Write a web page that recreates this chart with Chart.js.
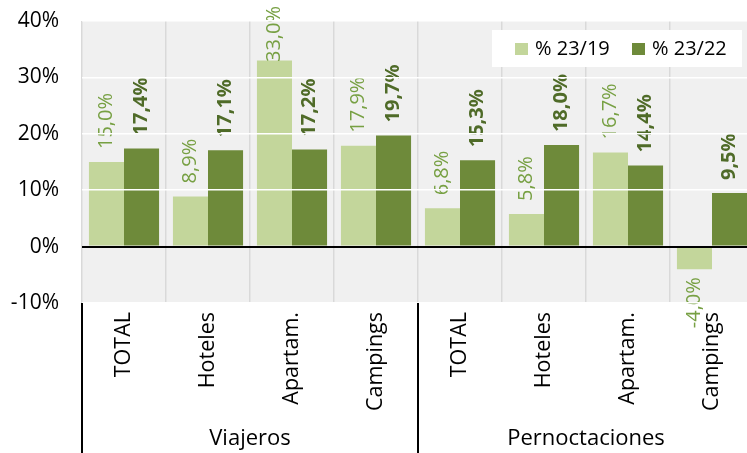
<!DOCTYPE html>
<html>
<head>
<meta charset="utf-8">
<script src="https://cdn.jsdelivr.net/npm/chart.js@4/dist/chart.umd.min.js"></script>
<style>
  html, body { margin: 0; padding: 0; background: #fff; overflow: hidden; }
  #wrap { width: 756px; height: 453px; }
</style>
</head>
<body>
<div id="wrap"><canvas id="chart" width="756" height="453"></canvas></div>
<script>
// ── Data ──
const categories = ['TOTAL', 'Hoteles', 'Apartam.', 'Campings', 'TOTAL', 'Hoteles', 'Apartam.', 'Campings'];
const groups = ['Viajeros', 'Pernoctaciones'];
const var2319 = [15.0, 8.9, 33.0, 17.9, 6.8, 5.8, 16.7, -4.0];
const var2322 = [17.4, 17.1, 17.2, 19.7, 15.3, 18.0, 14.4, 9.5];
const yTicks = [-10, 0, 10, 20, 30, 40];

const FONT = "'Open Sans', sans-serif";
const LIGHT = '#c3d69b';
const DARK = '#6e8a3a';

const fmt = v => v.toFixed(1).replace('.', ',') + '%';

// ── Plot background ──
const backgroundPlugin = {
  id: 'plotBg',
  beforeDraw(chart) {
    const { ctx, chartArea: a } = chart;
    ctx.save();
    ctx.fillStyle = '#f0f0f0';
    ctx.fillRect(a.left, a.top, a.right - a.left, a.bottom - a.top);
    ctx.restore();
  }
};

// ── Rotated value labels ──
const valueLabels = {
  id: 'valueLabels',
  afterDatasetsDraw(chart) {
    const ctx = chart.ctx;
    chart.data.datasets.forEach((ds, di) => {
      const meta = chart.getDatasetMeta(di);
      ctx.save();
      ctx.font = (di === 1 ? 'bold ' : '') + '20px ' + FONT;
      ctx.fillStyle = di === 1 ? '#4f6b28' : '#77a043';
      ctx.textBaseline = 'middle';
      meta.data.forEach((bar, i) => {
        const v = ds.data[i];
        const txt = fmt(v);
        const w = ctx.measureText(txt).width;
        ctx.save();
        if (v >= 0) {
          let start = bar.y - 13;
          if (start - w < 6) start = 6 + w;
          ctx.translate(bar.x, start);
          ctx.rotate(-Math.PI / 2);
          ctx.textAlign = 'left';
        } else {
          ctx.translate(bar.x, bar.y + 8);
          ctx.rotate(-Math.PI / 2);
          ctx.textAlign = 'right';
        }
        ctx.fillText(txt, 0, 0);
        ctx.restore();
      });
      ctx.restore();
    });
  }
};

// ── Group labels, separators and legend ──
const extras = {
  id: 'extras',
  afterDraw(chart) {
    const { ctx, chartArea: a } = chart;
    const H = chart.height;
    const step = (a.right - a.left) / categories.length;
    ctx.save();
    // separators below the plot
    ctx.strokeStyle = '#000';
    ctx.lineWidth = 2;
    [0, 4, 8].forEach(k => {
      const px = Math.round(a.left + k * step);
      ctx.beginPath();
      ctx.moveTo(px, a.bottom);
      ctx.lineTo(px, H);
      ctx.stroke();
    });
    // group names
    ctx.fillStyle = '#000';
    ctx.font = '22px ' + FONT;
    ctx.textAlign = 'center';
    ctx.textBaseline = 'middle';
    groups.forEach((g, k) => {
      const cx = a.left + (k * 4 + 2) * step;
      ctx.fillText(g, cx, 439);
    });
    // legend box
    const lx = 492, ly = 30, lw = 250, lh = 37;
    ctx.fillStyle = '#fff';
    ctx.fillRect(lx, ly, lw, lh);
    ctx.font = '20px ' + FONT;
    ctx.textAlign = 'left';
    const pos = [515, 632];
    chart.data.datasets.forEach((ds, k) => {
      ctx.fillStyle = ds.backgroundColor;
      ctx.fillRect(pos[k], 43, 13, 12);
      ctx.fillStyle = '#000';
      ctx.fillText(ds.label, pos[k] + 20, 49);
    });
    ctx.restore();
  }
};

new Chart(document.getElementById('chart'), {
  type: 'bar',
  data: {
    labels: categories,
    datasets: [
      { label: '% 23/19', data: var2319, backgroundColor: LIGHT, barPercentage: 1, categoryPercentage: 0.835 },
      { label: '% 23/22', data: var2322, backgroundColor: DARK, barPercentage: 1, categoryPercentage: 0.835 }
    ]
  },
  options: {
    responsive: false,
    animation: false,
    layout: { padding: { top: 21, right: 2, left: 0, bottom: 0 } },
    plugins: {
      legend: { display: false },
      tooltip: { enabled: false }
    },
    scales: {
      x: {
        offset: true,
        border: { display: false },
        grid: { offset: true, color: '#d9d9d9', lineWidth: 1.5, drawTicks: false },
        ticks: {
          color: '#000',
          font: { family: FONT, size: 21.5 },
          minRotation: 90,
          maxRotation: 90,
          padding: 9
        },
        afterFit: s => { s.height = 150; s.paddingLeft = 0; s.paddingRight = 0; }
      },
      y: {
        min: -10,
        max: 40,
        border: { display: false },
        afterBuildTicks: s => { s.ticks = yTicks.map(v => ({ value: v })); },
        grid: {
          drawTicks: false,
          color: c => (c.tick && c.tick.value === 0 ? '#000' : '#ffffff'),
          lineWidth: c => (c.tick && c.tick.value === 0 ? 2 : 1.5),
          z: 1
        },
        ticks: {
          color: '#000',
          font: { family: FONT, size: 21 },
          padding: 23,
          callback: v => v + '%'
        },
        afterFit: s => { s.width = 82; s.paddingTop = 0; s.paddingBottom = 0; }
      }
    }
  },
  plugins: [backgroundPlugin, valueLabels, extras]
});
</script>
</body>
</html>
